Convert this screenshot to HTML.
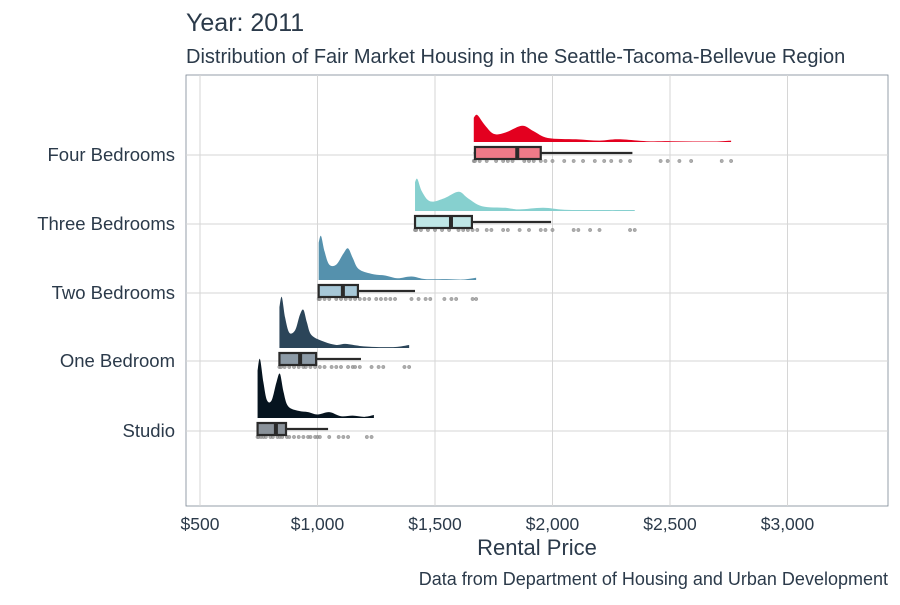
<!DOCTYPE html>
<html><head><meta charset="utf-8"><style>
body{margin:0;background:#fff;font-family:"Liberation Sans",sans-serif}
svg text{font-family:"Liberation Sans",sans-serif;fill:#2b3a4a}
</style></head><body>
<svg id="c" width="900" height="600">
<text x="186" y="31" font-size="25">Year: 2011</text>
<text x="186" y="63" font-size="20">Distribution of Fair Market Housing in the Seattle-Tacoma-Bellevue Region</text>
<rect x="186" y="75" width="702" height="431" fill="none" stroke="#7a8794" stroke-width="0.8"/>
<g id="grid"></g><g id="marks"></g>
<text x="537" y="555" font-size="22" text-anchor="middle">Rental Price</text>
<text x="888" y="585" font-size="18" text-anchor="end">Data from Department of Housing and Urban Development</text>
</svg>
<script>
const categories=["Studio","One Bedroom","Two Bedrooms","Three Bedrooms","Four Bedrooms"];
const xTicks=[500,1000,1500,2000,2500,3000];
const xTickLabels=["$500","$1,000","$1,500","$2,000","$2,500","$3,000"];
const boxMin=[745,838,1005,1415,1665];
const boxQ1=[745,838,1005,1415,1670];
const boxMedian=[823,926,1108,1568,1850];
const boxQ3=[866,994,1172,1657,1950];
const boxWhisker=[1045,1185,1415,1994,2340];
const densStudio=[[745,0.8],[755,1],[770,0.6],[785,0.3],[805,0.3],[825,0.6],[840,0.75],[855,0.45],[875,0.2],[920,0.12],[960,0.1],[1000,0.06],[1050,0.1],[1100,0.03],[1150,0.04],[1200,0.02],[1240,0.05]];
const densOne=[[838,0.8],[848,1],[862,0.6],[880,0.3],[905,0.35],[925,0.65],[940,0.75],[955,0.5],[975,0.25],[1030,0.12],[1080,0.06],[1120,0.08],[1180,0.04],[1250,0.02],[1330,0.02],[1390,0.06]];
const densTwo=[[1005,0.85],[1015,1],[1030,0.65],[1050,0.35],[1080,0.35],[1110,0.6],[1130,0.72],[1150,0.5],[1175,0.25],[1230,0.14],[1290,0.1],[1340,0.04],[1400,0.08],[1460,0.02],[1550,0.02],[1620,0.01],[1675,0.05]];
const densThree=[[1415,0.9],[1425,1],[1445,0.6],[1480,0.3],[1540,0.4],[1600,0.6],[1640,0.4],[1700,0.15],[1800,0.1],[1860,0.05],[1960,0.1],[2050,0.04],[2200,0.03],[2350,0.03]];
const densFour=[[1665,0.9],[1680,1],[1710,0.65],[1750,0.3],[1800,0.35],[1870,0.6],[1920,0.4],[1980,0.15],[2100,0.1],[2200,0.05],[2280,0.1],[2400,0.03],[2500,0.03],[2600,0.02],[2700,0.02],[2760,0.05]];
const densities=[densStudio,densOne,densTwo,densThree,densFour];
const densPeak=[59,51,44,32,27];
const ptsStudio=[745,750,760,770,780,800,810,830,840,850,870,880,900,920,940,960,970,990,1000,1010,1050,1090,1110,1130,1210,1230];
const ptsOne=[838,845,860,880,900,920,940,950,970,990,1010,1030,1060,1080,1100,1130,1150,1160,1180,1230,1260,1280,1370,1390];
const ptsTwo=[1005,1010,1030,1050,1080,1100,1120,1140,1160,1180,1200,1220,1250,1270,1290,1310,1330,1400,1430,1460,1480,1540,1570,1590,1660,1675];
const ptsThree=[1415,1420,1440,1470,1500,1530,1560,1600,1620,1640,1660,1680,1720,1740,1790,1810,1860,1900,1950,1970,2000,2090,2110,2160,2200,2330,2350];
const ptsFour=[1665,1670,1690,1720,1760,1790,1810,1830,1880,1900,1920,1950,1970,2000,2050,2090,2130,2180,2220,2250,2290,2330,2460,2490,2540,2590,2720,2760];
const points=[ptsStudio,ptsOne,ptsTwo,ptsThree,ptsFour];
const fills=["#06141f","#2b4559","#5591ad","#86d0cf","#e3001f"];
const boxFills=["#8a929a","#8c9aa6","#a7c8d8","#bfe6e6","#f07a88"];
const NS="http://www.w3.org/2000/svg";
const X=v=>200+(v-500)*0.235;
const rowY=[431,361,293,224,155];
const grid=document.getElementById('grid'),marks=document.getElementById('marks'),svg=document.getElementById('c');
function mk(tag,at,par){const e=document.createElementNS(NS,tag);for(const k in at)e.setAttribute(k,at[k]);par.appendChild(e);return e;}
xTicks.forEach((t,i)=>{
 const l=mk('line',{x1:X(t),x2:X(t),y1:75,y2:506,stroke:'#d6d6d6','stroke-width':1},grid);
 
 
 const tx=mk('text',{x:X(t),y:530,'font-size':17.5,'text-anchor':'middle'},svg);
 tx.textContent=xTickLabels[i];
 
 
});
categories.forEach((c,i)=>{
 const y=rowY[i];
 const l=mk('line',{x1:186,x2:888,y1:y,y2:y,stroke:'#d6d6d6','stroke-width':1},grid);
 
 
 const tx=mk('text',{x:175,y:y+6,'font-size':18.5,'text-anchor':'end'},svg);
 tx.textContent=c;
 
 
 const base=y-13, d=densities[i];
 const pts=d.map(p=>[X(p[0]),base-p[1]*densPeak[i]]);
 let s=`M${pts[0][0]},${base} L${pts[0][0]},${pts[0][1]}`;
 for(let k=0;k<pts.length-1;k++){
  const p0=pts[Math.max(0,k-1)],p1=pts[k],p2=pts[k+1],p3=pts[Math.min(pts.length-1,k+2)];
  const c1=[p1[0]+(p2[0]-p0[0])/6,p1[1]+(p2[1]-p0[1])/6],c2=[p2[0]-(p3[0]-p1[0])/6,p2[1]-(p3[1]-p1[1])/6];
  s+=` C${c1[0]},${Math.min(base,c1[1])} ${c2[0]},${Math.min(base,c2[1])} ${p2[0]},${p2[1]}`;
 }
 s+=` L${pts[pts.length-1][0]},${base} Z`;
 const dp=mk('path',{d:s,fill:fills[i]},marks);
 
 
 points[i].forEach(v=>{
  const ci=mk('circle',{cx:X(v),cy:y+6,r:1.7,fill:'#999',stroke:'#777','stroke-width':0.5,opacity:0.8},marks);
  
  
 });
 const w=mk('line',{x1:X(boxMin[i]),x2:X(boxWhisker[i]),y1:y-2,y2:y-2,stroke:'#2a2a2a','stroke-width':2.2},marks);
 
 
 const b=mk('rect',{x:X(boxQ1[i]),y:y-8,width:X(boxQ3[i])-X(boxQ1[i]),height:12,fill:boxFills[i],stroke:'#2a2a2a','stroke-width':2.2},marks);
 
 
 const m=mk('line',{x1:X(boxMedian[i]),x2:X(boxMedian[i]),y1:y-8,y2:y+4,stroke:'#2a2a2a','stroke-width':4},marks);
 
 
});
</script>
</body></html>
